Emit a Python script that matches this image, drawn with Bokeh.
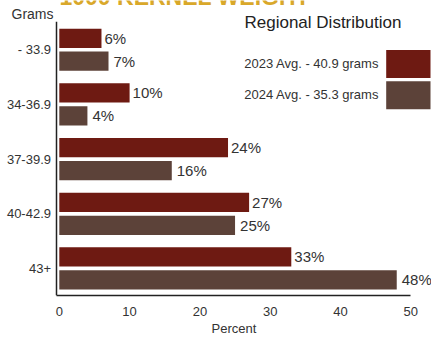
from bokeh.plotting import figure
from bokeh.models import Range1d, FixedTicker, Label, BoxAnnotation, ColumnDataSource, Title
from bokeh.transform import dodge
from bokeh.embed import file_html
from bokeh.resources import INLINE
from bokeh.core.properties import value

# ---- data ----
categories = ["- 33.9", "34-36.9", "37-39.9", "40-42.9", "43+"]
pct_2023 = [6, 10, 24, 27, 33]
pct_2024 = [7, 4, 16, 25, 48]
x_ticks = [0, 10, 20, 30, 40, 50]
series_names = ["2023 Avg. - 40.9 grams", "2024 Avg. - 35.3 grams"]
title_text = "1000 KERNEL WEIGHT"
legend_title = "Regional Distribution"
y_title = "Grams"
x_title = "Percent"

# ---- style ----
FONT = "Liberation Sans"
C23 = "#6E1A12"
C24 = "#5C4239"
GOLD = "#D9A82A"
TXT = "#333333"
AXC = "#222222"

W, H = 431, 335
BOTTOM = 35

# layout helpers (canvas pixel -> data), used for annotation placement only
X0_PX, PX_PER_UNIT = 58.8, 7.03
Y0_PX, PX_PER_GROUP = 50.1, 55.6
def dx(px):
    return (px - X0_PX) / PX_PER_UNIT
def dy(py):
    return -(py - Y0_PX) / PX_PER_GROUP

pos = [-i for i in range(len(categories))]
src = ColumnDataSource(dict(
    y=pos, cat=categories, v23=pct_2023, v24=pct_2024,
    l23=[f"{v}%" for v in pct_2023], l24=[f"{v}%" for v in pct_2024],
))

p = figure(width=W, height=H,
           x_range=Range1d(dx(0), dx(W)), y_range=Range1d(dy(H - BOTTOM), dy(0)),
           output_backend="svg", toolbar_location=None, y_axis_location=None,
           min_border_left=0, min_border_right=0, min_border_top=0,
           min_border_bottom=BOTTOM)
p.outline_line_color = None
p.grid.visible = False

off = 0.21
h = 0.352
p.hbar(y=dodge("y", off), left=0, right="v23", height=h, source=src,
       fill_color=C23, line_color=None)
p.hbar(y=dodge("y", -off), left=0, right="v24", height=h, source=src,
       fill_color=C24, line_color=None)
p.text(x="v23", y=dodge("y", off), text="l23", source=src, x_offset=3,
       text_baseline="middle", text_font=value(FONT), text_font_size="15px",
       text_color=TXT)
p.text(x="v24", y=dodge("y", -off), text="l24", source=src, x_offset=5,
       text_baseline="middle", text_font=value(FONT), text_font_size="15px",
       text_color=TXT)

# category labels on the left of the value axis
axis_x = dx(56.0)
p.text(x=dx(50.5), y="y", text="cat", source=src, text_align="right",
       text_baseline="middle", text_font=value(FONT), text_font_size="13px",
       text_color=TXT)
p.segment(x0=axis_x, y0=dy(H - BOTTOM), x1=axis_x, y1=dy(21.5),
          line_color=AXC, line_width=1.5)

# x axis
xa = p.xaxis[0]
xa.ticker = FixedTicker(ticks=x_ticks)
xa.bounds = (axis_x, 50)
xa.major_tick_line_color = None
xa.minor_tick_line_color = None
xa.axis_line_color = AXC
xa.axis_line_width = 1.5
xa.major_label_text_font = FONT
xa.major_label_text_font_size = "13px"
xa.major_label_text_color = TXT
xa.major_label_standoff = 5

# x axis title, centred under the value axis
p.add_layout(Title(text=x_title, align="left", offset=211, standoff=0,
                   text_font=FONT, text_font_style="normal",
                   text_font_size="13px", text_color=TXT), "below")

# annotations
p.add_layout(Label(x=dx(53), y=dy(14), text=y_title, text_align="right",
                   text_baseline="middle", text_font=FONT, text_font_size="14px",
                   text_color=TXT))
p.add_layout(Label(x=dx(59), y=dy(-4), text=title_text, text_align="left",
                   text_baseline="alphabetic", text_font=FONT,
                   text_font_style="bold", text_font_size="23px",
                   text_color=GOLD))
p.add_layout(Label(x=dx(244), y=dy(22.5), text=legend_title, text_align="left",
                   text_baseline="middle", text_font=FONT, text_font_size="17px",
                   text_color=AXC))
box_tops = [50.3, 82.1]
for name, col, top in zip(series_names, [C23, C24], box_tops):
    p.add_layout(BoxAnnotation(left=dx(385.7), right=dx(430), top=dy(top),
                               bottom=dy(top + 28.6), fill_color=col,
                               fill_alpha=1, line_color=None))
    p.add_layout(Label(x=dx(378.6), y=dy(top + 13.5), text=name, text_align="right",
                       text_baseline="middle", text_font=FONT,
                       text_font_size="13px", text_color=TXT))

open("out.html", "w").write(file_html(p, INLINE))
